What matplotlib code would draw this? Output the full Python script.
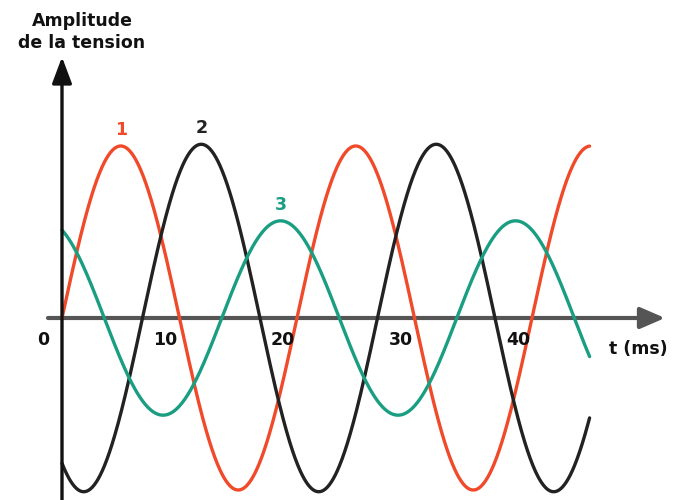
import numpy as np
import matplotlib
matplotlib.use('Agg')
import matplotlib.pyplot as plt

# ---- data ----
series_labels = ['1', '2', '3']
amplitudes = [1.0, 1.01, 0.565]          # relative amplitude
phase_shift_ms = [0.0, -6.85, 6.4]       # time shift of each sine (ms)
period_ms = 20.0                         # 50 Hz
t_end_ms = 44.9
x_ticks = [0, 10, 20, 30, 40]
x_tick_labels = ['0', '10', '20', '30', '40']
y_title = 'Amplitude\nde la tension'
x_title = 't (ms)'
colors = ['#f04a2a', '#222222', '#1a9e82']

# ---- figure ----
PX_PER_MS = 11.75
PX_PER_UNIT = 172.0
X0, Y0 = 62, 318
W, H = 675, 500
FS = 12.5

fig = plt.figure(figsize=(W / 100, H / 100), dpi=100)
ax = fig.add_axes([0, 0, 1, 1])
ax.set_xlim(-X0 / PX_PER_MS, (W - X0) / PX_PER_MS)
ax.set_ylim((Y0 - H) / PX_PER_UNIT, Y0 / PX_PER_UNIT)
ax.axis('off')

t = np.linspace(0, t_end_ms, 800)
for lab, A, ph, c in zip(series_labels, amplitudes, phase_shift_ms, colors):
    y = A * np.sin(2 * np.pi * (t + ph) / period_ms)
    ax.plot(t, y, color=c, lw=2.4, solid_capstyle='round', zorder=3)
    t_peak = (period_ms / 4 - ph) % period_ms
    ax.annotate(lab, xy=(t_peak, A), xytext=(0, 7), textcoords='offset pixels',
                ha='center', va='bottom', color=c, fontsize=FS,
                fontweight='bold', family='DejaVu Sans')

# axes with arrows
xmin, xmax = ax.get_xlim()
ymin, ymax = ax.get_ylim()
ax.annotate('', xy=((665 - X0) / PX_PER_MS, 0), xytext=((48 - X0) / PX_PER_MS, 0),
            arrowprops=dict(arrowstyle='-|>,head_length=1.5,head_width=0.65',
                            lw=3.0, color='#555555', shrinkA=0, shrinkB=0), zorder=2)
ax.annotate('', xy=(0, (Y0 - 57) / PX_PER_UNIT), xytext=(0, ymin),
            arrowprops=dict(arrowstyle='-|>,head_length=1.6,head_width=0.6',
                            lw=2.4, color='#111111', shrinkA=0, shrinkB=0), zorder=4)

for tk, tl in zip(x_ticks, x_tick_labels):
    dx = -13 if tk == 0 else -2
    ax.annotate(tl, xy=(tk, 0), xytext=(dx, -22), textcoords='offset pixels',
                ha='right', va='center', fontsize=FS, fontweight='bold',
                color='#111111', family='DejaVu Sans')

ax.annotate(x_title, xy=(xmax, 0), xytext=(-37, -31), textcoords='offset pixels',
            ha='center', va='center', fontsize=FS, fontweight='bold',
            color='#111111', family='DejaVu Sans')
ax.annotate(y_title, xy=(0, ymax), xytext=(20, -32), textcoords='offset pixels',
            ha='center', va='center', fontsize=FS, fontweight='bold',
            color='#111111', family='DejaVu Sans', linespacing=1.35)

fig.savefig('out.png', dpi=100)
